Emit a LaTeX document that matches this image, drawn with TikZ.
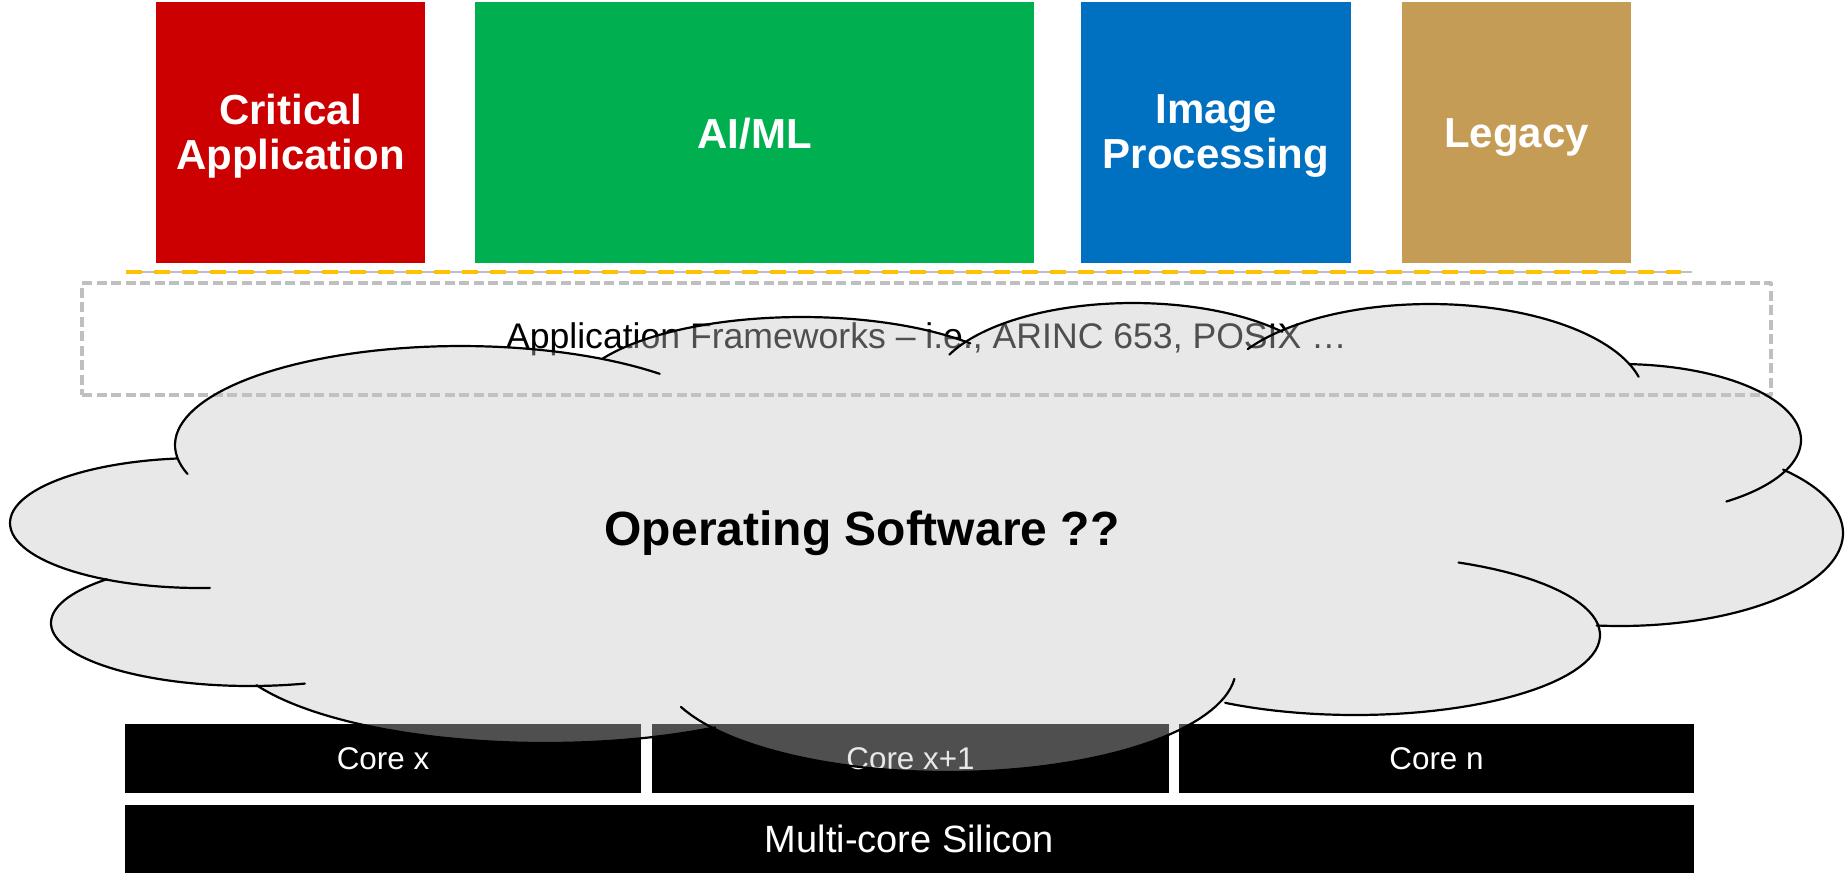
\documentclass[tikz,border=0pt]{standalone}
\usepackage{fontspec}
\setmainfont{Liberation Sans}
\definecolor{critred}{HTML}{CC0000}
\definecolor{aigreen}{HTML}{00B050}
\definecolor{imgblue}{HTML}{0070C0}
\definecolor{legacygold}{HTML}{C49C56}
\definecolor{sepyellow}{HTML}{FFC000}
\definecolor{frameg}{HTML}{BFBFBF}
\definecolor{cloudg}{HTML}{C6C6C6}
\newcommand{\cloudlobes}{200/523/190/65/87/263, 461/445/286/99/163/314, 802/400/230/83/210/317, 1133/390/201/87/204/318, 1430/400/215/96/212/346, 1620/440/181/76/273/414, 1620/533/223/93/317/456, 1355/635/245/80/295/482, 948/668/288/104/6/158, 545/640/321/103/58/154, 250/623/199/63/74/224}
\begin{document}
\begin{tikzpicture}[x=0.5pt, y=-0.5pt, line join=round,
		appbox/.style={fill=#1, minimum height=130.5pt, inner sep=0pt},
		boxtext/.style={text=white, font=\fontsize{21}{22.5}\selectfont\bfseries, align=center, inner sep=0pt},
		corebox/.style={fill=black, text=white, font=\fontsize{15.7}{18}\selectfont, minimum height=34.5pt, inner sep=0pt},
		cloudline/.style={line width=1.1pt, line cap=round}]
	\useasboundingbox (0,0) rectangle (1845,875);
	\node[appbox=critred, minimum width=134.5pt, label={[boxtext, yshift=-1.75pt]center:{Critical\\Application}}] (crit) at (290.5,132.5) {};
	\node[appbox=aigreen, minimum width=279.5pt, label={[boxtext, yshift=-0.5pt]center:AI/ML}] (aiml) at (754.5,132.5) {};
	\node[appbox=imgblue, minimum width=135pt, label={[boxtext, yshift=-1.75pt]center:{Image\\Processing}}] (img) at (1216,132.5) {};
	\node[appbox=legacygold, minimum width=114.5pt, label={[boxtext, yshift=-2.5pt]center:Legacy}] (legacy) at (1516.5,132.5) {};
	\coordinate (sepa) at (126,272);
	\coordinate (sepb) at (1681,272);
	\coordinate (sepc) at (1692,272);
	\draw[frameg, line width=1pt] (sepa) -- (sepc);
	\draw[sepyellow, line width=2pt, dash pattern=on 8pt off 6pt] (sepa) -- (sepb);
	\node[draw=frameg, line width=1.6pt, dash pattern=on 5pt off 2.25pt, minimum width=844.5pt, minimum height=56pt, inner sep=0pt, font=\fontsize{17.8}{20}\selectfont] (frames) at (926.5,339) {Application Frameworks – i.e., ARINC 653, POSIX …};
	\node[corebox, minimum width=258pt] (corex) at (383,758.5) {Core x};
	\node[corebox, minimum width=258.5pt] (corex1) at (910.5,758.5) {Core x+1};
	\node[corebox, minimum width=257.5pt] (coren) at (1436.5,758.5) {Core n};
	\node[corebox, minimum width=784.5pt, minimum height=34pt, font=\fontsize{19}{22}\selectfont] (silicon) at (909.5,839) {\raisebox{-1.2pt}{Multi-core Silicon}};
	\fill[cloudg, fill opacity=0.4] (920,520) ellipse [x radius=700, y radius=160]
		\foreach \cx/\cy/\rx/\ry/\ta/\tb in \cloudlobes {(\cx,\cy) ellipse [x radius=\rx, y radius=\ry]};
	\foreach \cx/\cy/\rx/\ry/\ta/\tb in \cloudlobes
		\draw[cloudline] plot[domain=\ta:\tb, samples=60] ({\cx+\rx*cos(\x)}, {\cy+\ry*sin(\x)});
	\node[font=\fontsize{24}{26}\selectfont\bfseries, anchor=base] (os) at (862,545) {Operating Software ??};
\end{tikzpicture}
\end{document}
